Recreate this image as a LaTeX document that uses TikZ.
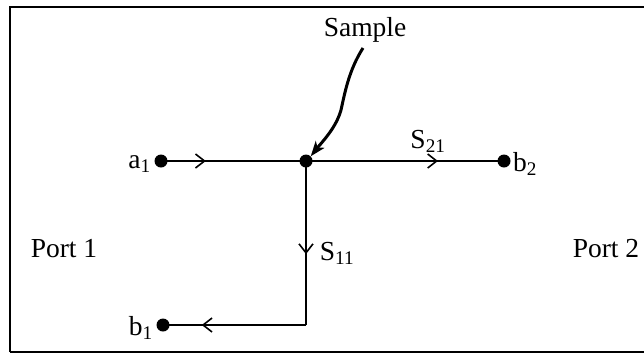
\documentclass[tikz,border=0pt]{standalone}
\usepackage{fontspec}
\setmainfont{Liberation Serif}
\usetikzlibrary{arrows.meta,decorations.markings}
\tikzset{
  dot/.style={circle,fill=black,inner sep=0pt,minimum size=13pt},
  lbl/.style={inner sep=1pt,font=\fontsize{27.5}{32}\selectfont},
  wire/.style={line width=1.6pt},
  midarrow/.style={postaction={decorate},decoration={markings,
     mark=at position #1 with {\draw[line width=1.6pt,line join=miter] (-9pt,7pt) -- (0pt,0pt) -- (-9pt,-7pt);}}},
}
\begin{document}
\begin{tikzpicture}[x=1pt,y=-1pt]
\useasboundingbox (0,0) rectangle (644,354);
\draw[line width=1.6pt] (10,352) -- (10,7) -- (645,7);
\draw[line width=1.6pt] (10,352) -- (645,352);
% nodes
\node[dot] (a1) at (161,161) {};
\node[dot] (j) at (306,161) {};
\node[dot] (b2) at (504,161) {};
\node[dot] (b1) at (163,325) {};
\coordinate (c) at (306,325);
% connectors
\draw[wire,midarrow=0.30] (a1.center) -- (j.center);
\draw[wire,midarrow=0.66] (j.center) -- (b2.center);
\draw[wire,midarrow=0.56] (j.center) -- (c);
\draw[wire,midarrow=0.72] (c) -- (b1.center);
% labels
\node[lbl,anchor=east] (la1) at (152,164) {a\textsubscript{1}};
\node[lbl,anchor=west] (lb2) at (512,164) {b\textsubscript{2}};
\node[lbl,anchor=east] (lb1) at (154,328) {b\textsubscript{1}};
\node[lbl] (s21) at (428,141) {S\textsubscript{21}};
\node[lbl] (s11) at (337,253) {S\textsubscript{11}};
\node[lbl] (p1) at (64,249) {Port 1};
\node[lbl] (p2) at (606,249) {Port 2};
\node[lbl] (sample) at (365,30) {Sample};
% sample arrow
\coordinate (sa) at (363,48);
\draw[line width=3pt,-{Stealth[length=15pt,width=11pt,inset=4pt]}] (sa) .. controls (349,70) and (345,92) .. (341,110) .. controls (336,128) and (322,142) .. (j.north east);
\end{tikzpicture}
\end{document}
